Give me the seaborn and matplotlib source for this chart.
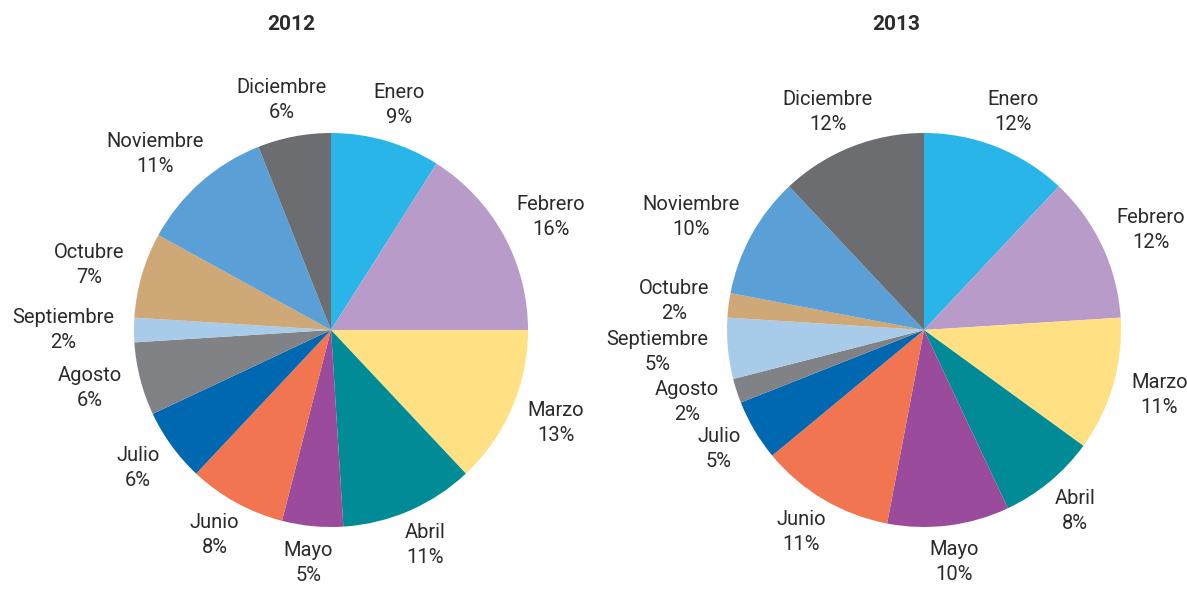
import numpy as np
import seaborn as sns
import matplotlib.pyplot as plt

months = ["Enero", "Febrero", "Marzo", "Abril", "Mayo", "Junio", "Julio",
          "Agosto", "Septiembre", "Octubre", "Noviembre", "Diciembre"]
share_2012 = [9, 16, 13, 11, 5, 8, 6, 6, 2, 7, 11, 6]
share_2013 = [12, 12, 11, 8, 10, 11, 5, 2, 5, 2, 10, 12]
month_colors = ["#29b5e8", "#b89bc8", "#ffe083", "#008b96", "#9a4b9b", "#f07550",
                "#0067b1", "#818285", "#a9cbea", "#cea876", "#5a9fd5", "#6c6d71"]

sns.set_theme(style="white")
plt.rcParams["font.family"] = ["Roboto", "DejaVu Sans"]
text_color = "#2b2b2b"

fig = plt.figure(figsize=(11.87, 5.89), dpi=100)
W, H = 1187, 589


def draw_pie(cx, cy, r, values, title, title_x):
    # axes box in pixels -> figure fraction
    ax = fig.add_axes([(cx - r) / W, (H - cy - r) / H, 2 * r / W, 2 * r / H])
    wedges, _ = ax.pie(values, colors=month_colors, startangle=90,
                       counterclock=False, wedgeprops=dict(linewidth=0))
    ax.set_xlim(-1, 1)
    ax.set_ylim(-1, 1)
    renderer = fig.canvas.get_renderer()
    px = r  # pixels per data unit
    for w, name, v in zip(wedges, months, values):
        ang = np.deg2rad((w.theta1 + w.theta2) / 2)
        ux, uy = np.cos(ang), np.sin(ang)
        t = ax.text(0, 0, f"{name}\n{v}%", ha="center", va="center",
                    fontsize=14.5, color=text_color, linespacing=1.4)
        bb = t.get_window_extent(renderer)
        bw, bh = bb.width / px, bb.height / px
        gap = 0.1
        t.set_position(((1 + gap) * ux + ux * bw / 2,
                        (1 + gap) * uy + uy * bh / 2 * 0.8))
    fig.text(title_x / W, 1 - 24 / H, title, ha="center", va="center",
             fontsize=15, fontweight="bold", color=text_color)


draw_pie(331, 330, 197, share_2012, "2012", 291)
draw_pie(924, 330, 197, share_2013, "2013", 896)

fig.savefig("out.png", dpi=100)
